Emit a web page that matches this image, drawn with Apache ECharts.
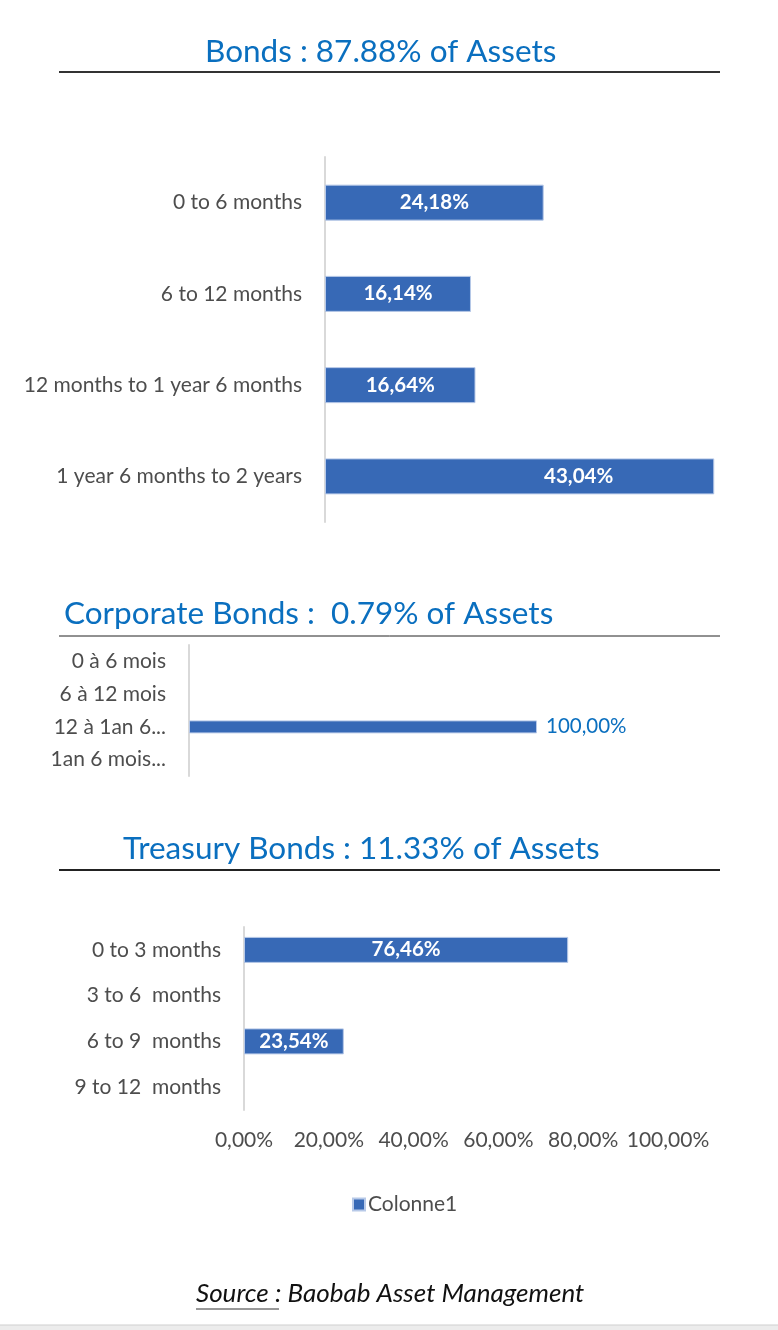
<!DOCTYPE html>
<html>
<head>
<meta charset="utf-8">
<script src="https://cdn.jsdelivr.net/npm/echarts@6/dist/echarts.min.js"></script>
<style>
  html, body { margin: 0; padding: 0; background: #fff; }
  #main { width: 778px; height: 1330px; }
</style>
</head>
<body>
<div id="main"></div>
<script>
// values (percent)
const bondCats = ['0 to 6 months', '6 to 12 months', '12 months to 1 year 6 months', '1 year 6 months to 2 years'];
const bondVals = [24.18, 16.14, 16.64, 43.04];

const corpCats = ['0 à 6 mois', '6 à 12 mois', '12 à 1an 6...', '1an 6 mois...'];
const corpVals = [null, null, 100, null];

const treasCats = ['0 to 3 months', '3 to 6  months', '6 to 9  months', '9 to 12  months'];
const treasVals = [76.46, null, 23.54, null];

const treasTicks = [0, 20, 40, 60, 80, 100];

const FONT = 'Lato';
const BLUE = '#3769b6';
const TITLE_BLUE = '#0a6fbf';
const GREY_TXT = '#4d4d4d';

const pct = v => v.toFixed(2).replace('.', ',') + '%';

const chart = echarts.init(document.getElementById('main'));

function catAxis(idx, cats) {
  return {
    type: 'category', gridIndex: idx, data: cats, inverse: true,
    axisLine: { lineStyle: { color: '#d9d9d9', width: 2 } },
    axisTick: { show: false },
    axisLabel: { color: GREY_TXT, fontFamily: FONT, fontSize: 21, margin: 23 }
  };
}

function valAxis(idx, max, show) {
  return {
    type: 'value', gridIndex: idx, min: 0, max: max,
    interval: show ? treasTicks[1] - treasTicks[0] : undefined,
    splitLine: { show: false }, axisLine: { show: false }, axisTick: { show: false },
    axisLabel: {
      show: show, color: GREY_TXT, fontFamily: FONT, fontSize: 21, margin: 20,
      formatter: v => pct(v)
    }
  };
}

const titleStyle = { color: TITLE_BLUE, fontFamily: FONT, fontSize: 31.5, fontWeight: 'normal' };

const option = {
  animation: false,
  title: [
    { text: 'Bonds : 87.88% of Assets', left: 200, top: 31, textStyle: titleStyle },
    { text: 'Corporate Bonds :  0.79% of Assets', left: 59, top: 593, textStyle: titleStyle },
    { text: 'Treasury Bonds : 11.33% of Assets', left: 118, top: 828, textStyle: titleStyle }
  ],
  legend: {
    data: ['Colonne1'], left: 347, top: 1189,
    icon: 'rect', itemWidth: 12, itemHeight: 12, itemGap: 4,
    textStyle: { color: GREY_TXT, fontFamily: FONT, fontSize: 21, padding: [0, 0, 0, -2] }
  },
  grid: [
    { left: 325, right: 46, top: 157, bottom: 808 },
    { left: 189, right: 241, top: 645, bottom: 554 },
    { left: 244, right: 110, top: 927, bottom: 220 }
  ],
  xAxis: [valAxis(0, 45, false), valAxis(1, 100, false), valAxis(2, 100, true)],
  yAxis: [catAxis(0, bondCats), catAxis(1, corpCats), catAxis(2, treasCats)],
  series: [
    { name: 'Colonne1', type: 'bar', xAxisIndex: 0, yAxisIndex: 0,
      // the last label sits right of the bar centre in the picture
      data: bondVals.map((v, i) => i === bondVals.length - 1 ? { value: v, label: { offset: [59, 0] } } : v),
      barWidth: 36, itemStyle: { color: BLUE, borderColor: '#b7c9e8', borderWidth: 1 },
      label: { show: true, position: 'inside', color: '#fff', fontFamily: FONT, fontSize: 20.5,
        fontWeight: 'bold', formatter: p => pct(p.value) } },
    { name: 'Colonne1', type: 'bar', xAxisIndex: 1, yAxisIndex: 1, data: corpVals,
      barWidth: 13, itemStyle: { color: BLUE, borderColor: '#b7c9e8', borderWidth: 1 },
      label: { show: true, position: 'right', distance: 9, color: TITLE_BLUE, fontFamily: FONT,
        fontSize: 20.5, formatter: p => pct(p.value) } },
    { name: 'Colonne1', type: 'bar', xAxisIndex: 2, yAxisIndex: 2, data: treasVals,
      barWidth: 26, itemStyle: { color: BLUE, borderColor: '#b7c9e8', borderWidth: 1 },
      label: { show: true, position: 'inside', color: '#fff', fontFamily: FONT, fontSize: 20.5,
        fontWeight: 'bold', formatter: p => pct(p.value) } }
  ],
  graphic: [
    { type: 'line', shape: { x1: 59, y1: 72, x2: 720, y2: 72 }, style: { stroke: '#333', lineWidth: 2 } },
    { type: 'line', shape: { x1: 59, y1: 636, x2: 720, y2: 636 }, style: { stroke: '#222', lineWidth: 1 } },
    { type: 'line', shape: { x1: 59, y1: 870, x2: 720, y2: 870 }, style: { stroke: '#222', lineWidth: 2 } },
    { type: 'text', left: 196, top: 1281,
      style: { text: 'Source : Baobab Asset Management', fill: '#111', fontFamily: FONT,
        fontSize: 26, fontStyle: 'italic' } },
    { type: 'line', shape: { x1: 196, y1: 1309, x2: 279, y2: 1309 }, style: { stroke: '#333', lineWidth: 1 } },
    { type: 'rect', shape: { x: 0, y: 1325, width: 778, height: 5 }, style: { fill: '#ececec' } },
    { type: 'line', shape: { x1: 0, y1: 1325, x2: 778, y2: 1325 }, style: { stroke: '#cfcfcf', lineWidth: 1 } }
  ]
};

chart.setOption(option);
</script>
</body>
</html>
